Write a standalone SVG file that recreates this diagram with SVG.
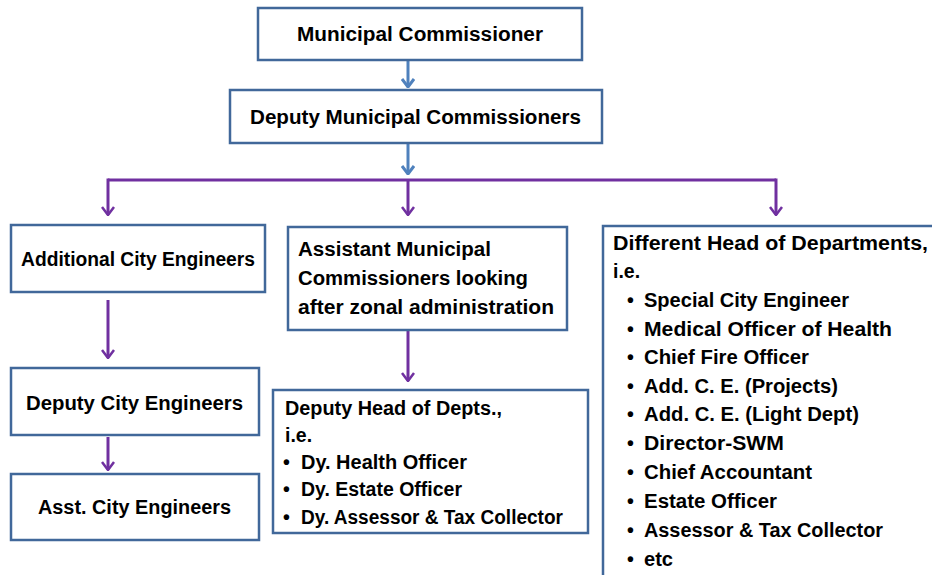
<svg xmlns="http://www.w3.org/2000/svg" width="932" height="575" viewBox="0 0 932 575">
<defs>
<style>
.box{fill:#fff;stroke:#41689a;stroke-width:2.5}
.t{font-family:"Liberation Sans",Arial,sans-serif;font-weight:bold;font-size:19.5px;fill:#000}
.bl{stroke:#4f81bd;stroke-width:3;fill:none}
.pu{stroke:#7030a0;stroke-width:3;fill:none}
</style>
<marker id="ab" viewBox="0 0 10 14" refX="9" refY="7" markerWidth="10" markerHeight="14" markerUnits="userSpaceOnUse" orient="auto">
<path d="M1,1 L9,7 L1,13" fill="none" stroke="#4f81bd" stroke-width="3"/>
</marker>
<marker id="ap" viewBox="0 0 10 14" refX="9" refY="7" markerWidth="10" markerHeight="14" markerUnits="userSpaceOnUse" orient="auto">
<path d="M1,1 L9,7 L1,13" fill="none" stroke="#7030a0" stroke-width="2.5"/>
</marker>
</defs>
<rect width="932" height="575" fill="#fff"/>
<g id="connectors">
<line class="bl" x1="408" y1="61" x2="408" y2="87" marker-end="url(#ab)"/>
<line class="bl" x1="408" y1="144" x2="408" y2="174" marker-end="url(#ab)"/>
<polyline class="pu" points="108,180 776,180"/>
<line class="pu" x1="108" y1="178.5" x2="108" y2="215" marker-end="url(#ap)"/>
<line class="pu" x1="408" y1="180" x2="408" y2="215" marker-end="url(#ap)"/>
<line class="pu" x1="776" y1="178.5" x2="776" y2="215" marker-end="url(#ap)"/>
<line class="pu" x1="108" y1="300" x2="108" y2="358" marker-end="url(#ap)"/>
<line class="pu" x1="408" y1="331" x2="408" y2="381" marker-end="url(#ap)"/>
<line class="pu" x1="108" y1="437" x2="108" y2="470" marker-end="url(#ap)"/>
</g>
<g id="n1"><rect class="box" x="258" y="8" width="324" height="52"/><text class="t" x="297" y="41" textLength="246" lengthAdjust="spacingAndGlyphs">Municipal Commissioner</text></g>
<g id="n2"><rect class="box" x="230" y="90" width="372" height="53"/><text class="t" x="250" y="124" textLength="331" lengthAdjust="spacingAndGlyphs">Deputy Municipal Commissioners</text></g>
<g id="n3"><rect class="box" x="11" y="225" width="254" height="67"/><text class="t" x="21" y="266" textLength="234" lengthAdjust="spacingAndGlyphs">Additional City Engineers</text></g>
<g id="n4"><rect class="box" x="288" y="227" width="279" height="103"/>
<text class="t" x="298" y="256" textLength="193" lengthAdjust="spacingAndGlyphs">Assistant Municipal</text>
<text class="t" x="298" y="285" textLength="230" lengthAdjust="spacingAndGlyphs">Commissioners looking</text>
<text class="t" x="298" y="314" textLength="256" lengthAdjust="spacingAndGlyphs">after zonal administration</text></g>
<g id="n5"><rect class="box" x="11" y="368" width="248" height="67"/><text class="t" x="26" y="410" textLength="217" lengthAdjust="spacingAndGlyphs">Deputy City Engineers</text></g>
<g id="n6"><rect class="box" x="11" y="474" width="248" height="66"/><text class="t" x="38" y="514" textLength="193" lengthAdjust="spacingAndGlyphs">Asst. City Engineers</text></g>
<g id="n7"><rect class="box" x="273" y="390" width="315" height="143"/>
<text class="t" x="285" y="415" textLength="217" lengthAdjust="spacingAndGlyphs">Deputy Head of Depts.,</text>
<text class="t" x="285" y="442">i.e.</text>
<text class="t" x="283" y="469">•</text><text class="t" x="301" y="469" textLength="166" lengthAdjust="spacingAndGlyphs">Dy. Health Officer</text>
<text class="t" x="283" y="496">•</text><text class="t" x="301" y="496" textLength="161" lengthAdjust="spacingAndGlyphs">Dy. Estate Officer</text>
<text class="t" x="283" y="524">•</text><text class="t" x="301" y="524" textLength="262" lengthAdjust="spacingAndGlyphs">Dy. Assessor &amp; Tax Collector</text></g>
<g id="n8"><rect class="box" x="603" y="226" width="340" height="360"/>
<text class="t" x="613" y="250" textLength="315" lengthAdjust="spacingAndGlyphs">Different Head of Departments,</text>
<text class="t" x="613" y="278">i.e.</text>
<text class="t" x="627" y="307">•</text><text class="t" x="644" y="307" textLength="205" lengthAdjust="spacingAndGlyphs">Special City Engineer</text>
<text class="t" x="627" y="336">•</text><text class="t" x="644" y="336" textLength="248" lengthAdjust="spacingAndGlyphs">Medical Officer of Health</text>
<text class="t" x="627" y="364">•</text><text class="t" x="644" y="364" textLength="165" lengthAdjust="spacingAndGlyphs">Chief Fire Officer</text>
<text class="t" x="627" y="393">•</text><text class="t" x="644" y="393" textLength="194" lengthAdjust="spacingAndGlyphs">Add. C. E. (Projects)</text>
<text class="t" x="627" y="421">•</text><text class="t" x="644" y="421" textLength="215" lengthAdjust="spacingAndGlyphs">Add. C. E. (Light Dept)</text>
<text class="t" x="627" y="450">•</text><text class="t" x="644" y="450" textLength="140" lengthAdjust="spacingAndGlyphs">Director-SWM</text>
<text class="t" x="627" y="479">•</text><text class="t" x="644" y="479" textLength="168" lengthAdjust="spacingAndGlyphs">Chief Accountant</text>
<text class="t" x="627" y="508">•</text><text class="t" x="644" y="508" textLength="133" lengthAdjust="spacingAndGlyphs">Estate Officer</text>
<text class="t" x="627" y="537">•</text><text class="t" x="644" y="537" textLength="239" lengthAdjust="spacingAndGlyphs">Assessor &amp; Tax Collector</text>
<text class="t" x="627" y="566">•</text><text class="t" x="644" y="566" textLength="29" lengthAdjust="spacingAndGlyphs">etc</text></g>
</svg>
